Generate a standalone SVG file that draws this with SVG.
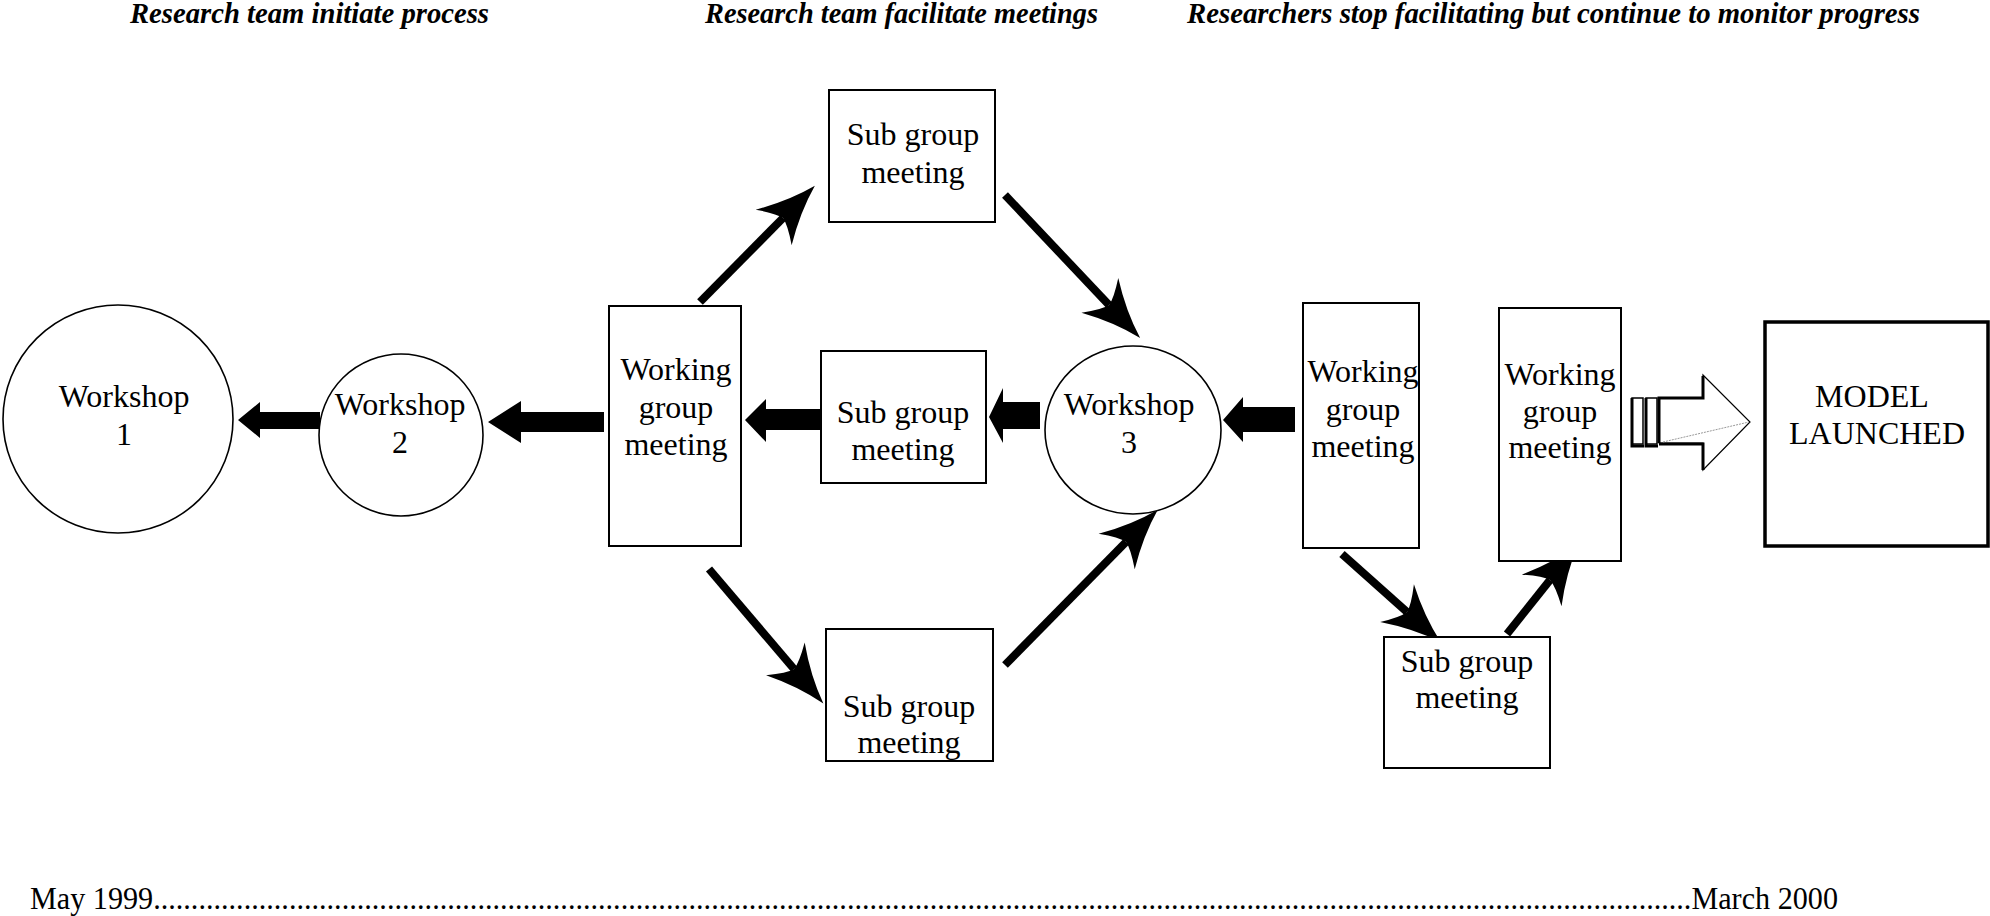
<svg xmlns="http://www.w3.org/2000/svg" width="1990" height="916" viewBox="0 0 1990 916">
<style>
  .hdr { font-family: "Liberation Serif", "Times New Roman", serif; font-size: 29px; font-weight: bold; font-style: italic; fill: #000; }
  .lbl { font-family: "Liberation Serif", "Times New Roman", serif; font-size: 32px; fill: #000; text-anchor: middle; }
  .date { font-family: "Liberation Serif", "Times New Roman", serif; font-size: 31px; fill: #000; }
  .box { fill: #fff; stroke: #000; stroke-width: 2; }
  .oval { fill: #fff; stroke: #000; stroke-width: 1.6; }
  .thick { fill: #fff; stroke: #000; stroke-width: 3.5; }
  .blk { fill: #000; stroke: none; }
  .diag { stroke: #000; stroke-width: 8; fill: none; marker-end: url(#stealth); }
</style>
<defs>
  <marker id="stealth" markerUnits="userSpaceOnUse" orient="auto" refX="0" refY="0" markerWidth="80" markerHeight="80" viewBox="-20 -30 60 60" overflow="visible">
    <path d="M34,0 Q12,-6 -10,-19 Q-1,-6 0,0 Q-1,6 -10,19 Q12,6 34,0 Z" fill="#000"/>
  </marker>
</defs>

<g id="headers">
  <text class="hdr" x="130" y="23" textLength="359" lengthAdjust="spacingAndGlyphs">Research team initiate process</text>
  <text class="hdr" x="705" y="23" textLength="393" lengthAdjust="spacingAndGlyphs">Research team facilitate meetings</text>
  <text class="hdr" x="1187" y="23" textLength="733" lengthAdjust="spacingAndGlyphs">Researchers stop facilitating but continue to monitor progress</text>
</g>

<g id="connectors">
  <!-- horizontal block arrows -->
  <polygon class="blk" points="238,420 260,402 260,412 320,412 320,429 260,429 260,438"/>
  <polygon class="blk" points="488,422 521,401 521,412 604,412 604,432 521,432 521,443"/>
  <polygon class="blk" points="745,420 766,399 766,409 822,409 822,430 766,430 766,442"/>
  <polygon class="blk" points="989,417 1003,388 1003,402 1040,402 1040,429 1003,429 1003,443"/>
  <polygon class="blk" points="1223,420 1243,397 1243,407 1295,407 1295,432 1243,432 1243,442"/>
  <!-- diagonal arrows -->
  <line class="diag" x1="700" y1="302" x2="783" y2="218"/>
  <line class="diag" x1="1005" y1="195" x2="1109" y2="305"/>
  <line class="diag" x1="709" y1="569" x2="794" y2="669"/>
  <line class="diag" x1="1005" y1="665" x2="1126" y2="542"/>
  <line class="diag" x1="1342" y1="554" x2="1407" y2="612"/>
  <line class="diag" x1="1507" y1="634" x2="1550" y2="580"/>
  <!-- hollow arrow to MODEL LAUNCHED -->
  <g id="hollow-arrow">
    <rect x="1632" y="398" width="11" height="46" fill="#fff" stroke="#000" stroke-width="1.5"/>
    <path d="M1632,398 V446 H1644" fill="none" stroke="#000" stroke-width="3"/>
    <rect x="1646" y="398" width="11" height="46" fill="#fff" stroke="#000" stroke-width="1.5"/>
    <path d="M1646,398 V446 H1658" fill="none" stroke="#000" stroke-width="3"/>
    <polygon points="1659,398 1703,398 1703,375 1750,422 1703,470 1703,443 1659,443" fill="#fff" stroke="#000" stroke-width="1.2"/>
    <path d="M1659,443 V398 H1703 V376" fill="none" stroke="#000" stroke-width="3"/>
    <path d="M1659,444 H1703 V470" fill="none" stroke="#000" stroke-width="3"/>
    <line x1="1663" y1="442" x2="1749" y2="422" stroke="#999" stroke-width="1" stroke-dasharray="2,1"/>
  </g>
</g>

<g id="workshop1">
  <ellipse class="oval" cx="118" cy="419" rx="115" ry="114"/>
  <text class="lbl" x="124" y="407">Workshop</text>
  <text class="lbl" x="124" y="445">1</text>
</g>
<g id="workshop2">
  <ellipse class="oval" cx="401" cy="435" rx="82" ry="81"/>
  <text class="lbl" x="400" y="415">Workshop</text>
  <text class="lbl" x="400" y="453">2</text>
</g>
<g id="working-group-1">
  <rect class="box" x="609" y="306" width="132" height="240"/>
  <text class="lbl" x="676" y="380">Working</text>
  <text class="lbl" x="676" y="418">group</text>
  <text class="lbl" x="676" y="455">meeting</text>
</g>
<g id="sub-group-top">
  <rect class="box" x="829" y="90" width="166" height="132"/>
  <text class="lbl" x="913" y="145">Sub group</text>
  <text class="lbl" x="913" y="183">meeting</text>
</g>
<g id="sub-group-middle">
  <rect class="box" x="821" y="351" width="165" height="132"/>
  <text class="lbl" x="903" y="423">Sub group</text>
  <text class="lbl" x="903" y="460">meeting</text>
</g>
<g id="sub-group-bottom">
  <rect class="box" x="826" y="629" width="167" height="132"/>
  <text class="lbl" x="909" y="717">Sub group</text>
  <text class="lbl" x="909" y="753">meeting</text>
</g>
<g id="workshop3">
  <ellipse class="oval" cx="1133" cy="430" rx="88" ry="84"/>
  <text class="lbl" x="1129" y="415">Workshop</text>
  <text class="lbl" x="1129" y="453">3</text>
</g>
<g id="working-group-2">
  <rect class="box" x="1303" y="303" width="116" height="245"/>
  <text class="lbl" x="1363" y="382">Working</text>
  <text class="lbl" x="1363" y="420">group</text>
  <text class="lbl" x="1363" y="457">meeting</text>
</g>
<g id="sub-group-right">
  <rect class="box" x="1384" y="637" width="166" height="131"/>
  <text class="lbl" x="1467" y="672">Sub group</text>
  <text class="lbl" x="1467" y="708">meeting</text>
</g>
<g id="working-group-3">
  <rect class="box" x="1499" y="308" width="122" height="253"/>
  <text class="lbl" x="1560" y="385">Working</text>
  <text class="lbl" x="1560" y="422">group</text>
  <text class="lbl" x="1560" y="458">meeting</text>
</g>
<g id="model-launched">
  <rect class="thick" x="1765" y="322" width="223" height="224"/>
  <text class="lbl" x="1872" y="407">MODEL</text>
  <text class="lbl" x="1877" y="444">LAUNCHED</text>
</g>

<g id="timeline">
  <text class="date" x="30" y="909" textLength="1808" lengthAdjust="spacingAndGlyphs">May 1999............................................................................................................................................................................................................March 2000</text>
</g>
</svg>
